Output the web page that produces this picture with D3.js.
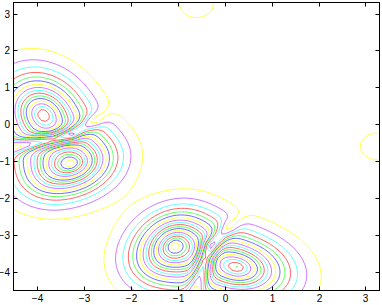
<!DOCTYPE html>
<html>
<head>
<meta charset="utf-8">
<script src="https://cdn.jsdelivr.net/npm/d3@7"></script>
<style>
  body { margin: 0; background: #fff; }
  text { font-family: "Liberation Sans", Arial, sans-serif; font-size: 10px; fill: #000; }
</style>
</head>
<body>
<svg id="chart" width="382" height="305"></svg>
<script>
// bumps of the surface (pairs mirror about y = x)
const peakX     = [-3.87, -3.28, -1.07,  0.27, -3.80, -1.55, -0.60,  3.25];
const peakY     = [ 0.27, -1.07, -3.28, -3.87, -1.55, -3.80,  3.25, -0.60];
const peakH     = [16.6, 16.7, 16.7, 16.6, 2.2, 2.2, 2.0, 2.0];
const peakSu    = [0.92, 0.77, 0.77, 0.92, 0.75, 0.75, 0.46, 0.46];
const peakSv    = [0.70, 0.62, 0.62, 0.70, 0.75, 0.75, 0.46, 0.46];
const peakAngle = [110, 25, 65, -20, 0, 0, 0, 0];

// narrow valley between the two peaks of a pair (the other one is its mirror)
const valleyX     = [-5.0, -4.5, -4.1, -3.6, -3.28, -3.0, -2.75, -2.2];
const valleyY     = [-0.72, -0.62, -0.52, -0.40, -0.28, -0.08, 0.12, 0.6];
const valleyDepth = [0.93, 0.90, 0.78, 0.72, 0.88, 0.68, 0.88, 0.0];

const levels = d3.range(1, 21);
const lineColors = ["#ffff20", "#c455ff", "#40ffff", "#ff4040", "#40ff40", "#4848ff"];
const xTicks = [-4, -3, -2, -1, 0, 1, 2, 3];
const yTicks = [-4, -3, -2, -1, 0, 1, 2, 3];

const svg = d3.select("#chart");
const margin = {left: 13.5, right: 379.5, top: 2.5, bottom: 290.5};

let x = d3.scaleLinear().domain([-4.5, 3.3]).range([margin.left, margin.right]);
let y = d3.scaleLinear().domain([-4.5, 3.3]).range([margin.bottom, margin.top]);

//////// surface
const profile = 1.5, valleyW = 0.13;

function peakValue(i, px, py)
{
    let a = peakAngle[i] * Math.PI / 180;
    let dx = px - peakX[i], dy = py - peakY[i];
    let u = (dx * Math.cos(a) + dy * Math.sin(a)) / peakSu[i];
    let v = (-dx * Math.sin(a) + dy * Math.cos(a)) / peakSv[i];
    return peakH[i] * Math.exp(-Math.pow(u * u + v * v, profile / 2));
}

function valleyFactor(xs, ys, px, py)
{
    let best = Infinity, depth = 0;
    for (let k = 0; k < xs.length - 1; k++)
    {
        let ex = xs[k + 1] - xs[k], ey = ys[k + 1] - ys[k];
        let t = ((px - xs[k]) * ex + (py - ys[k]) * ey) / (ex * ex + ey * ey);
        t = Math.max(0, Math.min(1, t));
        let qx = xs[k] + t * ex - px, qy = ys[k] + t * ey - py;
        let d2 = qx * qx + qy * qy;
        if (d2 < best) { best = d2; depth = valleyDepth[k] + t * (valleyDepth[k + 1] - valleyDepth[k]); }
    }
    return 1 - depth * Math.exp(-best / (2 * valleyW * valleyW));
}

function surface(px, py)
{
    let s = 0;
    for (let i = 0; i < peakX.length; i++) s += peakValue(i, px, py);
    return s * valleyFactor(valleyX, valleyY, px, py) * valleyFactor(valleyY, valleyX, px, py);
}

// grid a bit larger than the axes so the border edges get clipped away
const step = 0.08, gx0 = -4.7, gy0 = 3.5;
const nx = Math.round((3.5 - gx0) / step) + 1, ny = Math.round((gy0 + 4.7) / step) + 1;
let values = new Array(nx * ny);
for (let j = 0; j < ny; j++)
    for (let i = 0; i < nx; i++)
        values[j * nx + i] = surface(gx0 + i * step, gy0 - j * step);

let contours = d3.contours().size([nx, ny]).thresholds(levels)(values);

let proj = d3.geoTransform({
    point: function(gx, gy) {
        this.stream.point(x(gx0 + (gx - 0.5) * step), y(gy0 - (gy - 0.5) * step));
    }
});
let path = d3.geoPath(proj);

svg.append("defs").append("clipPath").attr("id", "plotArea")
    .append("rect")
    .attr("x", margin.left).attr("y", margin.top)
    .attr("width", margin.right - margin.left).attr("height", margin.bottom - margin.top);

svg.append("g").attr("clip-path", "url(#plotArea)")
    .selectAll("path")
    .data(contours)
    .enter().append("path")
    .attr("d", path)
    .attr("fill", "none")
    .attr("stroke", (d, i) => lineColors[i % lineColors.length])
    .attr("stroke-width", 0.8)
    .attr("stroke-linejoin", "round");

//////// axes box with inward ticks
const tickLen = 4;
let axes = svg.append("g");
axes.append("rect")
    .attr("x", margin.left).attr("y", margin.top)
    .attr("width", margin.right - margin.left).attr("height", margin.bottom - margin.top)
    .attr("fill", "none").attr("stroke", "#000").attr("stroke-width", 1);

xTicks.forEach(t => {
    let px = Math.round(x(t)) + 0.5;
    axes.append("line").attr("x1", px).attr("x2", px)
        .attr("y1", margin.bottom).attr("y2", margin.bottom - tickLen).attr("stroke", "#000");
    axes.append("line").attr("x1", px).attr("x2", px)
        .attr("y1", margin.top).attr("y2", margin.top + tickLen).attr("stroke", "#000");
    axes.append("text").attr("x", px).attr("y", 302)
        .attr("text-anchor", "middle")
        .text(t < 0 ? "\u2212" + (-t) : t);
});

yTicks.forEach(t => {
    let py = Math.round(y(t)) + 0.5;
    axes.append("line").attr("x1", margin.left).attr("x2", margin.left + tickLen)
        .attr("y1", py).attr("y2", py).attr("stroke", "#000");
    axes.append("line").attr("x1", margin.right).attr("x2", margin.right - tickLen)
        .attr("y1", py).attr("y2", py).attr("stroke", "#000");
    axes.append("text").attr("x", 10).attr("y", py + 3.5)
        .attr("text-anchor", "end")
        .text(t < 0 ? "\u2212" + (-t) : t);
});
</script>
</body>
</html>
